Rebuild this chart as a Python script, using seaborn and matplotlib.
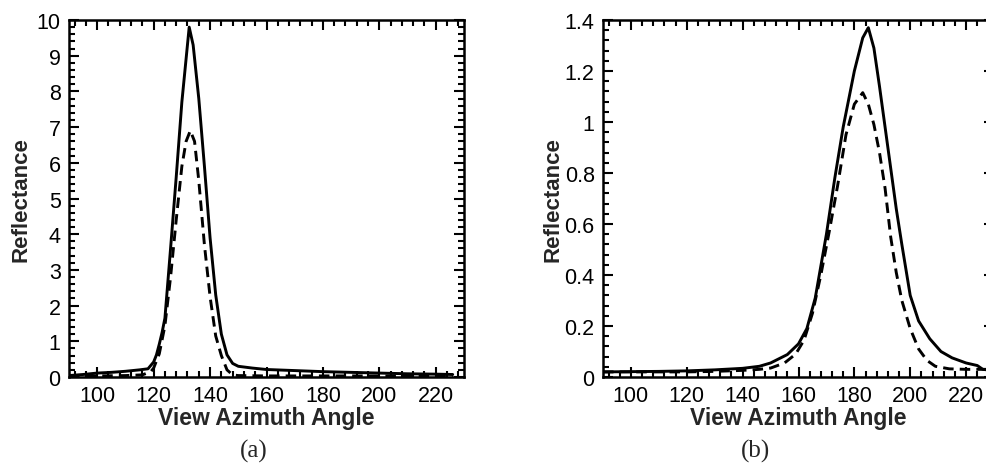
import matplotlib
matplotlib.use("Agg")
import matplotlib.pyplot as plt
from matplotlib.ticker import MultipleLocator, AutoMinorLocator, FuncFormatter
import seaborn as sns
import pandas as pd

# ---- data ----
# panel (a)
a_solid_x = [90, 95, 100, 105, 110, 115, 118, 120, 121, 122, 123, 124, 126, 128, 130, 132.6,
             134, 136, 138, 140, 142, 144, 146, 148, 150, 155, 160, 170, 180, 190, 200, 210, 220, 226]
a_solid_y = [0.04, 0.07, 0.11, 0.13, 0.16, 0.20, 0.23, 0.42, 0.62, 0.92, 1.25, 1.65, 3.6, 5.6, 7.7, 9.8,
             9.3, 7.8, 5.9, 3.9, 2.3, 1.2, 0.62, 0.38, 0.30, 0.25, 0.21, 0.18, 0.15, 0.13, 0.11, 0.09, 0.08, 0.07]
a_dash_x = [90, 100, 110, 116, 119, 120, 122, 124, 126, 128, 130, 131.5, 133, 134.5, 136, 138,
            140, 142, 144, 146, 148, 150, 160, 180, 200, 226]
a_dash_y = [0.02, 0.03, 0.04, 0.06, 0.15, 0.25, 0.65, 1.44, 2.8, 4.4, 5.9, 6.6, 6.9, 6.6, 5.5, 3.7,
            2.25, 1.15, 0.6, 0.2, 0.06, 0.04, 0.03, 0.03, 0.03, 0.03]

# panel (b)
b_solid_x = [90, 100, 110, 120, 130, 140, 146, 150, 156, 160, 163, 166, 170, 173, 176, 180, 183,
             185, 187, 189, 191, 193, 195, 197, 200, 203, 207, 211, 215, 220, 224, 226, 230]
b_solid_y = [0.020, 0.021, 0.022, 0.024, 0.028, 0.034, 0.042, 0.055, 0.088, 0.13, 0.19, 0.31, 0.56,
             0.78, 0.98, 1.20, 1.33, 1.37, 1.29, 1.14, 0.98, 0.82, 0.66, 0.52, 0.32, 0.22, 0.15,
             0.10, 0.075, 0.055, 0.045, 0.03, 0.025]
b_dash_x = [90, 100, 110, 120, 130, 140, 146, 150, 155, 159, 162, 165, 168, 171, 174, 177, 180,
            183, 185, 187, 189, 191, 193, 195, 197, 200, 203, 206, 209, 214, 220, 225, 230]
b_dash_y = [0.02, 0.02, 0.02, 0.02, 0.022, 0.026, 0.03, 0.035, 0.055, 0.09, 0.145, 0.25, 0.40,
            0.57, 0.75, 0.95, 1.07, 1.115, 1.07, 0.99, 0.88, 0.74, 0.55, 0.41, 0.30, 0.19, 0.11,
            0.065, 0.042, 0.032, 0.03, 0.03, 0.03]

x_label = "View Azimuth Angle"
y_label = "Reflectance"
captions = ["(a)", "(b)"]

sns.set_style("ticks")
plt.rcParams['font.family'] = ['Liberation Sans', 'DejaVu Sans']

W, H = 986, 464
fig = plt.figure(figsize=(W / 100, H / 100), dpi=100)

def box(l, r, t, b):
    return [l / W, 1 - b / H, (r - l) / W, (b - t) / H]

ax_a = fig.add_axes(box(69, 464, 21, 378))
ax_b = fig.add_axes(box(603, 994, 21, 378))

panels = [
    (ax_a, a_solid_x, a_solid_y, a_dash_x, a_dash_y, (0, 10), 1, -0.122),
    (ax_b, b_solid_x, b_solid_y, b_dash_x, b_dash_y, (0, 1.4), 0.2, -0.127),
]

for ax, sx, sy, dx, dy, ylim, ystep, lab_x in panels:
    df_s = pd.DataFrame({"x": sx, "y": sy})
    df_d = pd.DataFrame({"x": dx, "y": dy})
    sns.lineplot(data=df_s, x="x", y="y", ax=ax, color="black", lw=2.1, estimator=None, sort=False)
    sns.lineplot(data=df_d, x="x", y="y", ax=ax, color="black", lw=2.1, estimator=None, sort=False,
                 dashes=False, linestyle=(0, (3.6, 2.1)))
    ax.set_xlim(90, 230)
    ax.set_ylim(*ylim)
    ax.xaxis.set_major_locator(MultipleLocator(20))
    ax.xaxis.set_minor_locator(AutoMinorLocator(5))
    ax.yaxis.set_major_locator(MultipleLocator(ystep))
    ax.yaxis.set_minor_locator(AutoMinorLocator(5))
    ax.yaxis.set_major_formatter(FuncFormatter(lambda v, p: f"{v:g}"))
    ax.tick_params(which="both", direction="in", top=True, right=True, width=1.5, colors="black",
                   labelsize=15.5, pad=6)
    ax.tick_params(which="major", length=7)
    ax.tick_params(which="minor", length=4)
    for s in ax.spines.values():
        s.set_linewidth(1.8)
        s.set_color("black")
    ax.set_xlabel(x_label, fontsize=16.5, fontweight="bold", labelpad=0)
    ax.set_ylabel(y_label, fontsize=16, fontweight="bold", va="center")
    ax.yaxis.set_label_coords(lab_x, 0.5)

serif = ["Liberation Serif", "DejaVu Serif"]
fig.text(254 / W, 1 - 451 / H, captions[0], ha="center", va="center", fontsize=18, family=serif)
fig.text(755 / W, 1 - 451 / H, captions[1], ha="center", va="center", fontsize=18, family=serif)

fig.savefig("out.png", dpi=100)
